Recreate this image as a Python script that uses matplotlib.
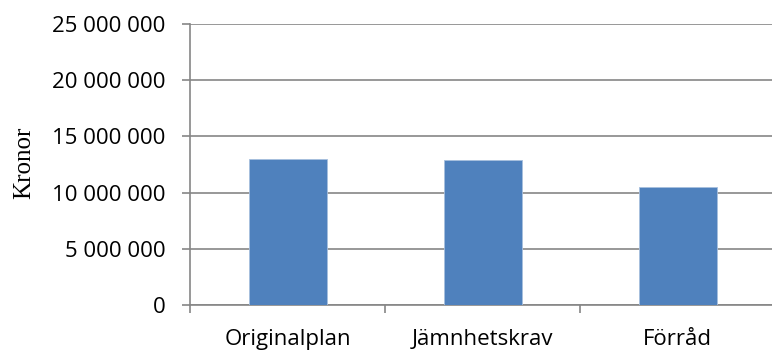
import matplotlib.pyplot as plt
from matplotlib.ticker import FuncFormatter, FixedLocator

# Kostnader per alternativ (kronor)
kategorier = ['Originalplan', 'Jämnhetskrav', 'Förråd']
kostnad = [12960000, 12870000, 10470000]
y_ticks = [0, 5000000, 10000000, 15000000, 20000000, 25000000]

grid_farg = '#868686'
stapel_farg = '#4f81bd'

fig = plt.figure(figsize=(7.72, 3.51), dpi=100)
ax = fig.add_axes([190 / 772, 46 / 351, 582 / 772, 281 / 351])

x = range(len(kategorier))
ax.bar(x, kostnad, width=0.40, color=stapel_farg, edgecolor='#a7bfde', linewidth=0.6, zorder=3)

ax.set_ylim(0, 25000000)
ax.set_xlim(-0.5, -0.5 + 582 / 195)
ax.set_yticks(y_ticks)
ax.yaxis.set_major_formatter(FuncFormatter(lambda v, p: f'{int(v):,}'.replace(',', ' ')))
ax.grid(axis='y', color=grid_farg, linewidth=1.2, zorder=0)

# kategorietiketter i mitten, streck mellan kategorierna
ax.set_xticks(list(x))
ax.set_xticklabels(kategorier)
ax.xaxis.set_minor_locator(FixedLocator([-0.5, 0.5, 1.5, 2.5]))
ax.tick_params(axis='x', which='major', length=0, pad=17)
ax.tick_params(axis='x', which='minor', length=5.5, width=1.2, color=grid_farg)
ax.tick_params(axis='y', length=5.5, width=1.2, color=grid_farg, pad=12)

for lbl in ax.get_xticklabels() + ax.get_yticklabels():
    lbl.set_fontfamily('Open Sans')
    lbl.set_fontsize(16)
    lbl.set_color('black')

for s in ['top', 'right']:
    ax.spines[s].set_visible(False)
for s in ['left', 'bottom']:
    ax.spines[s].set_color(grid_farg)
    ax.spines[s].set_linewidth(1.2)

fig.text(24 / 772, 1 - 163 / 351, 'Kronor', rotation=90, ha='center', va='center',
         family='Liberation Serif', fontsize=18)

fig.savefig('out.png', dpi=100)
